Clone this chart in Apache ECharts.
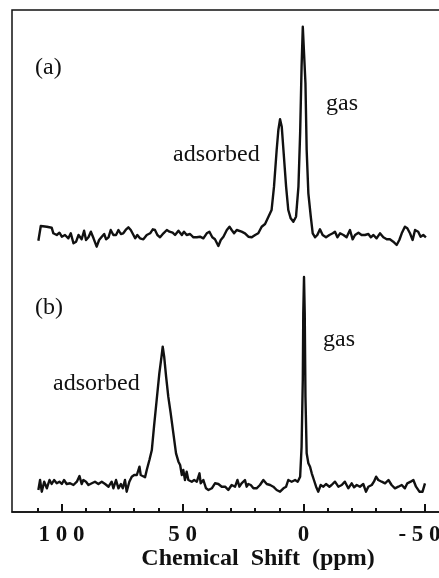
<!DOCTYPE html>
<html>
<head>
<meta charset="utf-8">
<script src="https://cdn.jsdelivr.net/npm/echarts@6/dist/echarts.min.js"></script>
<style>
  html, body { margin: 0; padding: 0; background: #fff; }
  #chart { width: 439px; height: 578px; }
</style>
</head>
<body>
<div id="chart"></div>
<script>
// spectrum (a): chemical shift (ppm) and intensity (arbitrary units)
const shiftA = [109.6,108.6,106.1,104.1,103.4,102.0,100.9,99.9,98.6,97.2,
  96.2,95.1,94.0,93.0,91.7,90.7,89.9,88.9,87.9,86.8,
  85.5,84.5,83.4,82.4,81.6,80.6,79.7,78.6,77.5,76.5,
  75.5,74.5,73.3,72.4,71.4,70.3,69.6,68.7,67.6,66.2,
  64.8,63.4,62.3,61.4,60.4,59.3,57.9,56.5,55.4,54.1,
  53.1,51.7,50.3,49.4,48.3,46.9,45.5,44.1,42.8,41.4,
  40.0,38.9,37.7,36.6,35.2,34.2,33.1,31.7,30.6,29.7,
  28.7,27.6,26.9,25.6,24.2,22.8,21.4,20.0,18.7,17.3,
  15.9,14.5,13.2,12.2,11.1,10.4,9.7,9.0,8.3,7.2,
  6.3,5.3,4.2,3.1,2.1,1.4,0.8,0.3,-0.2,-0.8,
  -1.3,-2.0,-3.0,-3.8,-4.8,-5.7,-6.8,-7.9,-9.3,-10.7,
  -12.1,-13.0,-14.0,-15.1,-16.5,-17.8,-19.2,-20.3,-21.3,-22.7,
  -24.0,-25.4,-26.8,-27.8,-28.9,-30.2,-31.6,-33.0,-34.4,-35.7,
  -37.1,-38.5,-39.6,-40.6,-41.9,-42.9,-44.0,-45.1,-46.1,-47.4,
  -48.4,-49.5,-50.6];
const intensityA = [-4.7,10,9.3,8.3,2.7,1,3.3,-0.7,1,-2.3,
  2.7,-7.3,-5.7,1,-3.3,5.3,-4,-1.3,4.3,-2.3,
  -10.7,-4,-0.7,2,-3.3,-1.3,6,1,1,6,
  2,2.7,6.7,8.7,6,1,-2.3,1,-2.3,-3.3,
  1,2.7,6.7,6,1,-1.3,2.7,6,4.3,3.3,
  1,5.3,1,4.3,1,2,-1.3,-1.3,-0.7,-2.3,
  2.7,4.3,-1.3,-3.3,-10,-4,-0.7,6,9.3,6,
  2.7,6,6.7,4.3,2.7,-0.7,-1.3,1,2.7,9.3,
  12,19.3,26,49.3,86,106,116.7,109.3,86,49.3,
  26,17.7,14.3,19.3,49.3,102.7,169.3,209.3,211,152.7,
  86,42.7,19.3,2.7,-1.3,1,6.7,1,-1.3,1,
  2.7,4.3,-1.3,2.7,1,-1.3,6,-3.3,1,3.3,
  1,1,2,-1.3,1,-2.3,2.7,-1.3,-3.3,-3.3,
  -5.7,-9,-4,2.7,9.3,7.7,2.7,-4,6,4.3,
  -0.7,1,-1.3];

// spectrum (b)
const shiftB = [109.6,108.9,108.2,107.2,106.1,105.0,104.1,103.1,102.0,100.9,
  99.9,99.0,97.9,96.5,95.1,93.7,92.6,91.7,91.0,89.9,
  88.9,87.5,86.2,84.8,83.4,82.0,80.6,79.3,78.6,77.5,
  76.5,75.5,74.7,73.8,73.1,72.0,71.0,70.0,68.9,67.8,
  67.3,66.5,65.5,64.8,63.7,62.7,61.8,60.7,59.6,58.7,
  58.2,57.6,56.8,55.9,54.9,53.8,52.7,51.7,51.0,50.3,
  49.7,49.0,48.3,47.6,46.9,46.2,45.2,44.1,43.0,42.5,
  41.4,40.3,39.3,37.9,36.6,35.2,33.8,32.4,31.1,29.7,
  28.3,27.3,26.5,25.6,24.2,23.5,22.8,21.8,20.7,19.4,
  18.0,16.6,15.2,13.8,12.5,11.1,9.7,8.3,7.2,6.3,
  4.9,3.5,2.4,1.4,0.8,0.3,0.1,-0.2,-0.5,-0.8,
  -1.3,-2.0,-2.7,-3.4,-4.3,-5.2,-6.1,-7.1,-8.2,-9.3,
  -10.7,-11.6,-13.0,-14.4,-15.8,-17.1,-18.5,-19.9,-20.9,-22.0,
  -23.3,-24.7,-25.8,-26.8,-28.2,-29.1,-30.0,-30.9,-32.3,-33.7,
  -35.1,-36.4,-37.8,-39.2,-40.6,-41.9,-42.9,-44.3,-45.4,-46.5,
  -47.9,-49.2,-50.2];
const intensityB = [-5,5,-6.7,3.3,-3.3,5,1,5,1.7,3.3,
  1,5,1,1.7,0,3.3,9,1,5,3.3,
  0,1.7,3.3,1,3.3,1,-1.7,3.3,-3.3,5,
  -3.3,1,-3.3,5,-6.7,3.3,8.3,10,10,18.3,
  10,8.3,7.7,15,25,35,58.3,85,111.7,128.3,
  138.3,128.3,108.3,88.3,71.7,51.7,31.7,23.3,20,10,
  15,5,13.3,5,6.7,3.3,5,3.3,11.7,1.7,
  5,-3.3,-5,-3.3,1.7,1,-1.7,-1.7,-5,0,
  -1.7,5,-1.7,1.7,5,-1.7,1,0,-3.3,-3.3,
  0,5,1,0,-1.7,-5,-6.7,-3.3,-1.7,5,
  3.3,5,3.3,8.3,38.3,105,171.7,208,171.7,88.3,
  31.7,21.7,18.3,11.7,5,-1.7,-6.7,0,-1.7,1,
  -1.7,0,3.3,-1.7,0,3.3,-3.3,1.7,-2.3,0,
  -1.7,1,-6.7,-1.7,0,3.3,8.3,5,3.3,1.7,
  5,0,-3.3,-1.7,0,-3.3,1.7,3.3,5,-1.7,
  -6.7,-6.7,1.7];

// axis ticks (ppm): minor every 10 from 110 to -50, labelled every 50
const minorTickMax = 110, majorTickMax = 100, tickMin = -50;

const serif = "'Liberation Serif', 'Times New Roman', serif";
const xMin = -56, xMax = 120.5;
const plotLeft = 12, plotWidth = 427;
const pxPerPpm = plotWidth / (xMax - xMin);
const ppmToX = ppm => plotLeft + (xMax - ppm) * pxPerPpm;

function pairs(xs, ys) {
  return xs.map((x, i) => [x, ys[i]]);
}

function hiddenX(gridIndex) {
  return {
    type: 'value', gridIndex: gridIndex, min: xMin, max: xMax, inverse: true,
    axisLine: { show: false }, axisTick: { show: false },
    axisLabel: { show: false }, splitLine: { show: false }
  };
}

function hiddenY(gridIndex, min, max) {
  return {
    type: 'value', gridIndex: gridIndex, min: min, max: max,
    axisLine: { show: false }, axisTick: { show: false },
    axisLabel: { show: false }, splitLine: { show: false }
  };
}

// grid spanning only the ticked range, so that tick positions land on the data scale
function tickGrid(hi, lo) {
  return { left: ppmToX(hi), right: 439 - ppmToX(lo), top: 10, bottom: 66,
    containLabel: false, outerBoundsMode: 'none' };
}

function label(text, x, y) {
  return {
    type: 'text', x: x, y: y,
    style: { text: text, fill: '#111', font: '24px ' + serif, verticalAlign: 'middle' }
  };
}

let chart = echarts.init(document.getElementById('chart'));
chart.setOption({
  animation: false,
  backgroundColor: '#fff',
  grid: [
    { left: plotLeft, width: plotWidth, top: 10, height: 250, containLabel: false, outerBoundsMode: 'none' },
    { left: plotLeft, width: plotWidth, top: 260, height: 252, containLabel: false, outerBoundsMode: 'none' },
    // frame: right edge lies outside the picture, as in the original
    { left: plotLeft, width: plotWidth + 6, top: 10, bottom: 66, show: true, containLabel: false,
      outerBoundsMode: 'none',
      borderColor: '#111', borderWidth: 1.5, backgroundColor: 'transparent' },
    tickGrid(minorTickMax, tickMin),
    tickGrid(majorTickMax, tickMin)
  ],
  xAxis: [
    hiddenX(0),
    hiddenX(1),
    {
      type: 'value', gridIndex: 2, min: 0, max: 1,
      axisLine: { show: true, lineStyle: { color: '#111', width: 1.5 } },
      axisTick: { show: false }, axisLabel: { show: false }, splitLine: { show: false }
    },
    {
      type: 'value', gridIndex: 3, min: tickMin, max: minorTickMax, interval: 10, inverse: true,
      axisLine: { show: false },
      axisTick: { show: true, inside: true, length: 4, lineStyle: { color: '#111', width: 2 } },
      axisLabel: { show: false }, splitLine: { show: false }
    },
    {
      type: 'value', gridIndex: 4, min: tickMin, max: majorTickMax, interval: 50, inverse: true,
      axisLine: { show: false },
      axisTick: { show: true, inside: true, length: 8, lineStyle: { color: '#111', width: 2 } },
      axisLabel: {
        show: true, margin: 12, showMinLabel: true, showMaxLabel: true,
        color: '#111', fontFamily: serif, fontWeight: 'bold', fontSize: 23,
        hideOverlap: false,
        formatter: v => {
          const s = String(v).split('').join(' ');
          return v < 0 ? '{neg|' + s + '}' : s;
        },
        rich: {
          neg: { color: '#111', fontFamily: serif, fontWeight: 'bold', fontSize: 23,
            padding: [0, 10, 0, 0] }
        }
      },
      splitLine: { show: false }
    }
  ],
  yAxis: [
    hiddenY(0, -24, 226),
    hiddenY(1, -27, 225),
    hiddenY(2, 0, 1),
    hiddenY(3, 0, 1),
    hiddenY(4, 0, 1)
  ],
  graphic: [
    label('(a)', 35, 68),
    label('gas', 326, 104),
    label('adsorbed', 173, 155),
    label('(b)', 35, 308),
    label('gas', 323, 340),
    label('adsorbed', 53, 384),
    {
      type: 'text', x: 258, y: 559,
      style: { text: 'Chemical  Shift  (ppm)', fill: '#111',
        font: 'bold 24px ' + serif, align: 'center', verticalAlign: 'middle' }
    }
  ],
  series: [
    {
      type: 'line', xAxisIndex: 0, yAxisIndex: 0,
      data: pairs(shiftA, intensityA),
      showSymbol: false,
      lineStyle: { color: '#111', width: 2.4, join: 'round' }
    },
    {
      type: 'line', xAxisIndex: 1, yAxisIndex: 1,
      data: pairs(shiftB, intensityB),
      showSymbol: false,
      lineStyle: { color: '#111', width: 2.4, join: 'round' }
    }
  ]
});
window.addEventListener('resize', () => chart.resize());
</script>
</body>
</html>
